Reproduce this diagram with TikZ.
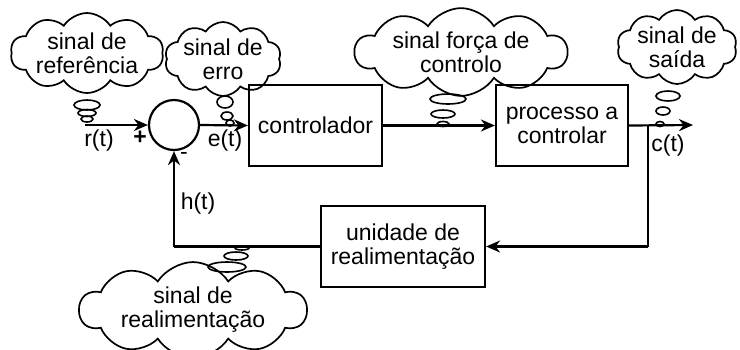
\documentclass[tikz,border=0pt]{standalone}
\usepackage{fontspec}
\setmainfont{Liberation Sans}
\usetikzlibrary{shapes.symbols,arrows.meta}
\begin{document}
\begin{tikzpicture}[x=1pt,y=-1pt,
  every node/.style={font=\fontsize{23}{24}\selectfont},
  block/.style={draw,line width=2.2pt,inner sep=0pt,align=center},
  sig/.style={line width=2.2pt,-{Stealth[length=14pt,width=12pt]}},
  wire/.style={line width=2.2pt},
  thought/.style={draw,line width=1.7pt,shape=cloud,cloud puffs=10,cloud puff arc=115,
    cloud ignores aspect,inner sep=0pt,align=center},
  bub/.style={line width=1.6pt}]
\fill[white] (0,0) rectangle (740,349);
\useasboundingbox (0,0) rectangle (740,349);

% blocks
\node[block,circle,minimum size=50pt] (sum) at (174,125) {};
\node[block,minimum width=133pt,minimum height=81pt] (ctrl) at (315.5,125.5) {controlador};
\node[block,minimum width=132pt,minimum height=81pt] (proc) at (562,125.5) {processo a\\controlar};
\node[block,minimum width=164pt,minimum height=81pt] (fb) at (403,246.5) {unidade de\\realimentação};

% signal points
\coordinate (rin) at (85,125);
\coordinate (branch) at (648,125);
\coordinate (cout) at (693,125);
\coordinate (fbcorner) at (648,246.5);
\coordinate (hcorner) at (174,246.5);

% connectors
\draw[sig] (rin) -- (sum.west);
\draw[sig] (sum.east) -- (ctrl.west);
\draw[sig] (ctrl.east) -- (proc.west);
\draw[sig] (proc.east) -- (cout);
\draw[wire] (branch) -- (fbcorner);
\draw[sig] (fbcorner) -- (fb.east);
\draw[wire] (fb.west) -- (hcorner);
\draw[sig] (hcorner) -- (sum.south);

% signal labels
\node (rt) at (99,141) {r(t)};
\node (plus) at (140,138) {\textbf{+}};
\node (minus) at (184,156) {-};
\node (et) at (225,141) {e(t)};
\node (ct) at (668,146) {c(t)};
\node (ht) at (198,204) {h(t)};

% thought clouds
\node[thought,minimum width=153pt,minimum height=80pt] (cref) at (87,53) {sinal de\\referência};
\node[thought,minimum width=95pt,minimum height=62pt] (cerr) at (223,59) {sinal de\\erro};
\node[thought,minimum width=212pt,minimum height=78pt] (cforce) at (461,52) {sinal força de\\controlo};
\node[thought,minimum width=120pt,minimum height=68pt] (cout2) at (677,47) {sinal de\\saída};
\node[thought,minimum width=227pt,minimum height=74pt] (cfb) at (193,310) {sinal de\\realimentação};

% thought bubbles
\draw[bub] (87,105) ellipse [x radius=13pt, y radius=5pt];
\draw[bub] (87,113) ellipse [x radius=9pt, y radius=3.5pt];
\draw[bub] (87,119) ellipse [x radius=6pt, y radius=3pt];

\draw[bub] (225,102) ellipse [x radius=8pt, y radius=6pt];
\draw[bub] (227,116) ellipse [x radius=6pt, y radius=4pt];
\draw[bub] (230,123) ellipse [x radius=4pt, y radius=3pt];

\draw[bub] (448,99) ellipse [x radius=18pt, y radius=5pt];
\draw[bub] (443,114) ellipse [x radius=12pt, y radius=4pt];
\draw[bub] (443,124) ellipse [x radius=6pt, y radius=2.5pt];

\draw[bub] (668,96) ellipse [x radius=12pt, y radius=5pt];
\draw[bub] (663,111) ellipse [x radius=7pt, y radius=4pt];
\draw[bub] (660,124) ellipse [x radius=4pt, y radius=2.5pt];

\draw[bub] (227,267) ellipse [x radius=19pt, y radius=5pt];
\draw[bub] (236,256) ellipse [x radius=12pt, y radius=4pt];
\draw[bub] (242,248) ellipse [x radius=7pt, y radius=2pt];
\end{tikzpicture}
\end{document}
